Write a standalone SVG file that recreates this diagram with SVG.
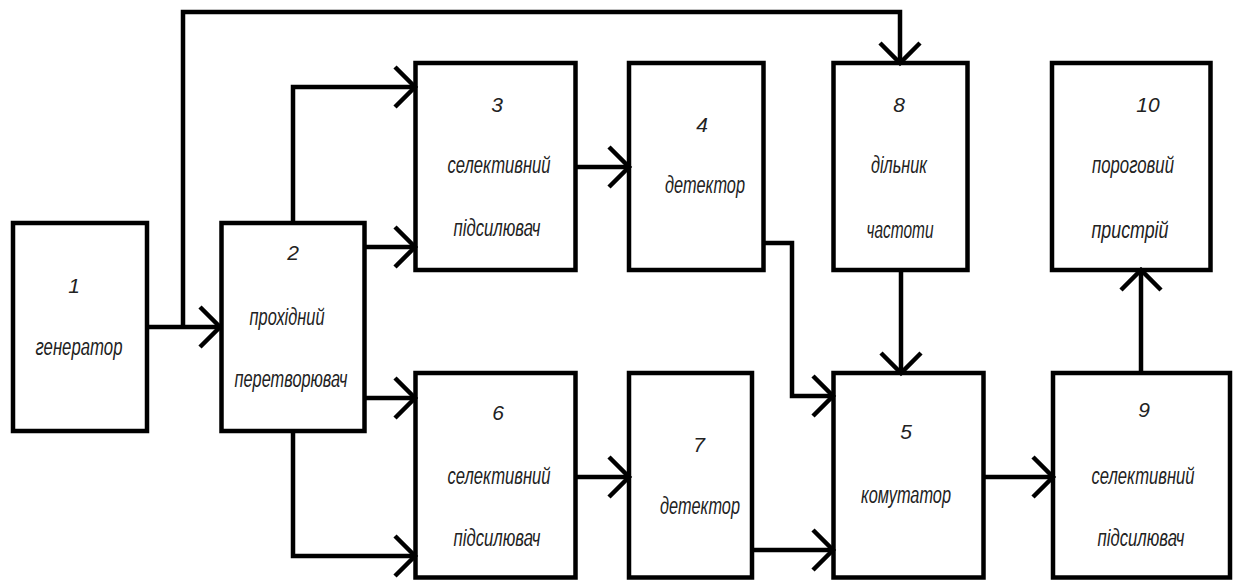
<svg xmlns="http://www.w3.org/2000/svg" width="1234" height="580" viewBox="0 0 1234 580">
<style>
.box{fill:none;stroke:#000;stroke-width:4.5}
.ln{fill:none;stroke:#000;stroke-width:4.5;stroke-linejoin:miter}
.num{font-family:"Liberation Sans",Arial,sans-serif;font-style:italic;font-size:21px;fill:#222;text-anchor:middle}
.lbl{font-family:"Liberation Sans",Arial,sans-serif;font-style:italic;font-size:23px;fill:#222;text-anchor:middle}
</style>
<defs>
<marker id="arr" markerUnits="userSpaceOnUse" viewBox="-26 -26 30 52" markerWidth="30" markerHeight="52" refX="0" refY="0" orient="auto">
<path d="M-20,-20 L0,0 L-20,20" fill="none" stroke="#000" stroke-width="4.5"/>
</marker>
</defs>
<rect width="1234" height="580" fill="#fff"/>
<g id="connectors">
<path class="ln" d="M147,327 L220,327" marker-end="url(#arr)"/>
<path class="ln" d="M183,327 L183,12 L900,12 L900,63" marker-end="url(#arr)"/>
<path class="ln" d="M293,222 L293,87 L415,87" marker-end="url(#arr)"/>
<path class="ln" d="M364,247 L415,247" marker-end="url(#arr)"/>
<path class="ln" d="M364,398 L415,398" marker-end="url(#arr)"/>
<path class="ln" d="M293,431 L293,556 L415,556" marker-end="url(#arr)"/>
<path class="ln" d="M576,167 L629,167" marker-end="url(#arr)"/>
<path class="ln" d="M576,477 L629,477" marker-end="url(#arr)"/>
<path class="ln" d="M763,243 L792,243 L792,396 L833,396" marker-end="url(#arr)"/>
<path class="ln" d="M752,550 L833,550" marker-end="url(#arr)"/>
<path class="ln" d="M901,270 L901,373" marker-end="url(#arr)"/>
<path class="ln" d="M983,477 L1053,477" marker-end="url(#arr)"/>
<path class="ln" d="M1141,373 L1141,270" marker-end="url(#arr)"/>
</g>
<g id="node1">
<rect class="box" x="13" y="223" width="134" height="208"/>
<text class="num" x="74" y="293">1</text>
<text class="lbl" x="79" y="355" textLength="87" lengthAdjust="spacingAndGlyphs">генератор</text>
</g>
<g id="node2">
<rect class="box" x="221.5" y="223" width="143" height="208"/>
<text class="num" x="293" y="260">2</text>
<text class="lbl" x="287" y="325" textLength="75" lengthAdjust="spacingAndGlyphs">прохідний</text>
<text class="lbl" x="291" y="387" textLength="113" lengthAdjust="spacingAndGlyphs">перетворювач</text>
</g>
<g id="node3">
<rect class="box" x="415.5" y="63" width="160" height="207"/>
<text class="num" x="497" y="112">3</text>
<text class="lbl" x="499" y="173" textLength="103" lengthAdjust="spacingAndGlyphs">селективний</text>
<text class="lbl" x="497" y="236" textLength="87" lengthAdjust="spacingAndGlyphs">підсилювач</text>
</g>
<g id="node4">
<rect class="box" x="629" y="63" width="134.5" height="207"/>
<text class="num" x="702" y="132">4</text>
<text class="lbl" x="705" y="193" textLength="80" lengthAdjust="spacingAndGlyphs">детектор</text>
</g>
<g id="node8">
<rect class="box" x="833.5" y="63" width="134" height="207"/>
<text class="num" x="899" y="112">8</text>
<text class="lbl" x="899" y="173" textLength="56" lengthAdjust="spacingAndGlyphs">дільник</text>
<text class="lbl" x="900" y="238" textLength="67" lengthAdjust="spacingAndGlyphs">частоти</text>
</g>
<g id="node10">
<rect class="box" x="1052" y="63" width="158.5" height="207"/>
<text class="num" x="1148" y="112">10</text>
<text class="lbl" x="1133" y="173" textLength="82" lengthAdjust="spacingAndGlyphs">пороговий</text>
<text class="lbl" x="1130" y="238" textLength="77" lengthAdjust="spacingAndGlyphs">пристрій</text>
</g>
<g id="node6">
<rect class="box" x="415.5" y="373" width="160" height="204.5"/>
<text class="num" x="498" y="420">6</text>
<text class="lbl" x="499" y="484" textLength="103" lengthAdjust="spacingAndGlyphs">селективний</text>
<text class="lbl" x="497" y="546" textLength="87" lengthAdjust="spacingAndGlyphs">підсилювач</text>
</g>
<g id="node7">
<rect class="box" x="629" y="373" width="123" height="204.5"/>
<text class="num" x="699" y="452">7</text>
<text class="lbl" x="700" y="514" textLength="80" lengthAdjust="spacingAndGlyphs">детектор</text>
</g>
<g id="node5">
<rect class="box" x="833.5" y="373" width="150" height="204.5"/>
<text class="num" x="906" y="439">5</text>
<text class="lbl" x="906" y="503" textLength="90" lengthAdjust="spacingAndGlyphs">комутатор</text>
</g>
<g id="node9">
<rect class="box" x="1053" y="373" width="177" height="204.5"/>
<text class="num" x="1144" y="417">9</text>
<text class="lbl" x="1143" y="484" textLength="103" lengthAdjust="spacingAndGlyphs">селективний</text>
<text class="lbl" x="1141" y="546" textLength="87" lengthAdjust="spacingAndGlyphs">підсилювач</text>
</g>
</svg>
